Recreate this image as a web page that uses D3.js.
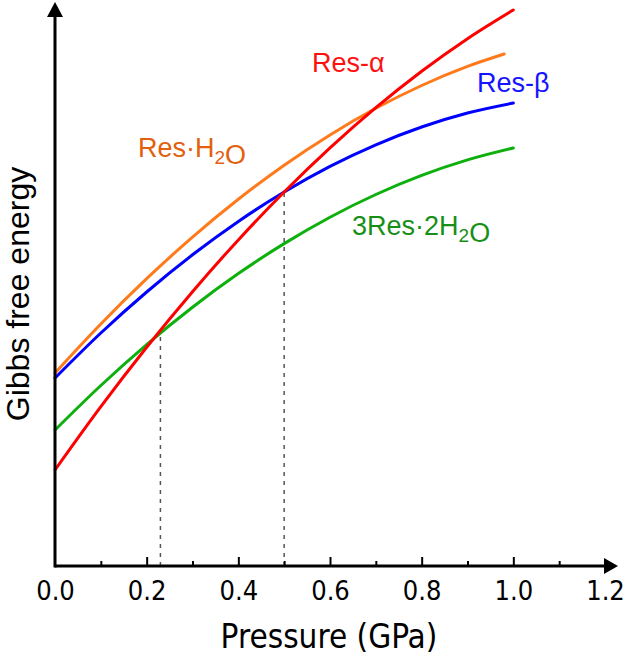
<!DOCTYPE html>
<html>
<head>
<meta charset="utf-8">
<script src="https://cdn.jsdelivr.net/npm/d3@7"></script>
<style>
  html, body { margin: 0; padding: 0; background: #fff; }
  svg { display: block; }
</style>
</head>
<body>
<svg id="chart" width="626" height="664"></svg>
<script>
// ---- Data (energy in arbitrary units) ----
const pressure = [0, 0.1, 0.2, 0.3, 0.4, 0.5, 0.6, 0.7, 0.8, 0.9, 1.0];
const pressureH2O = [0, 0.1, 0.2, 0.3, 0.4, 0.5, 0.6, 0.7, 0.8, 0.9, 0.98];
const resAlpha = [9.6, 15.93, 21.87, 27.43, 32.61, 37.4, 41.81, 45.83, 49.47, 52.73, 55.6];
const resH2O   = [19.3, 24.2, 28.73, 32.89, 36.67, 40.08, 43.11, 45.77, 48.05, 49.96, 51.2];
const resBeta  = [18.8, 23.3, 27.4, 31.12, 34.46, 37.4, 39.96, 42.12, 43.9, 45.3, 46.3];
const res3H2O  = [13.6, 18.05, 22.14, 25.87, 29.24, 32.24, 34.88, 37.15, 39.06, 40.61, 41.8];
const majorTicks = [0, 0.2, 0.4, 0.6, 0.8, 1.0, 1.2];
const minorTicks = [0.1, 0.3, 0.5, 0.7, 0.9, 1.1];
const transitions = [ {p: 0.23, g: 23.3}, {p: 0.5, g: 37.4} ];

const svg = d3.select("#chart");
const x = d3.scaleLinear().domain([0, 1.2]).range([55, 605]);
const y = d3.scaleLinear().domain([0, 56]).range([566, 6]);
const y0 = y(0), x0 = x(0);

// dashed transition lines
svg.selectAll("line.trans").data(transitions).enter().append("line")
  .attr("x1", d => x(d.p)).attr("x2", d => x(d.p))
  .attr("y1", y0).attr("y2", d => y(d.g))
  .attr("stroke", "#555").attr("stroke-width", 1.5).attr("stroke-dasharray", "4,5");

// curves
const series = [
  {xs: pressureH2O, ys: resH2O, color: "#ff7a1a"},
  {xs: pressure, ys: resBeta, color: "#0000ff"},
  {xs: pressure, ys: res3H2O, color: "#0db00d"},
  {xs: pressure, ys: resAlpha, color: "#ff0000"}
];
const line = d3.line().x(d => x(d[0])).y(d => y(d[1])).curve(d3.curveMonotoneX);
svg.selectAll("path.curve").data(series).enter().append("path")
  .attr("d", s => line(s.xs.map((p, i) => [p, s.ys[i]])))
  .attr("fill", "none").attr("stroke", s => s.color).attr("stroke-width", 3)
  .attr("stroke-linecap", "round");

// x axis ticks (upward)
const majorAxis = d3.axisBottom(x).tickValues(majorTicks).tickSizeInner(-9).tickSizeOuter(0)
  .tickPadding(15).tickFormat(d3.format(".1f"));
const gMaj = svg.append("g").attr("transform", `translate(0,${y0})`).call(majorAxis);
gMaj.select(".domain").remove();
gMaj.selectAll(".tick line").attr("stroke", "#000").attr("stroke-width", 2)
  .filter(d => d === 0 || d === 1.2).remove();
gMaj.selectAll(".tick text").attr("font-family", "'DejaVu Sans Condensed', 'DejaVu Sans', sans-serif")
  .attr("font-size", 27).attr("fill", "#000");

const minorAxis = d3.axisBottom(x).tickValues(minorTicks).tickSizeInner(-5).tickSizeOuter(0).tickFormat("");
const gMin = svg.append("g").attr("transform", `translate(0,${y0})`).call(minorAxis);
gMin.select(".domain").remove();
gMin.selectAll(".tick line").attr("stroke", "#000").attr("stroke-width", 2);

// axis lines with arrows
svg.append("line").attr("x1", x0).attr("x2", 604).attr("y1", y0).attr("y2", y0)
  .attr("stroke", "#000").attr("stroke-width", 3);
svg.append("path").attr("d", `M604,${y0-8} L618,${y0} L604,${y0+8} Z`).attr("fill", "#000");
svg.append("line").attr("x1", x0).attr("x2", x0).attr("y1", y0 + 1.5).attr("y2", 16)
  .attr("stroke", "#000").attr("stroke-width", 3);
svg.append("path").attr("d", `M${x0-8},17 L${x0},2 L${x0+8},17 Z`).attr("fill", "#000");

// axis titles
svg.append("text").attr("x", 329).attr("y", 648).attr("text-anchor", "middle")
  .attr("font-family", "'DejaVu Sans Condensed', 'DejaVu Sans', sans-serif").attr("font-size", 33)
  .text("Pressure (GPa)");
svg.append("text").attr("transform", "translate(29,294) rotate(-90)").attr("text-anchor", "middle")
  .attr("font-family", "'Liberation Sans', Arial, sans-serif").attr("font-size", 32)
  .text("Gibbs free energy");

// curve labels
const labelFont = "'Liberation Sans', Arial, sans-serif";
function label(xp, yp, color, parts) {
  const t = svg.append("text").attr("x", xp).attr("y", yp).attr("fill", color)
    .attr("font-family", labelFont).attr("font-size", 27);
  parts.forEach(p => {
    if (p.sub) {
      t.append("tspan").attr("font-size", 19).attr("dy", 7).text(p.t);
      t.append("tspan").attr("dy", -7).text("");
    } else {
      t.append("tspan").text(p.t);
    }
  });
}
label(312, 72, "#ff1010", [{t: "Res-α"}]);
label(477, 92, "#1414ff", [{t: "Res-β"}]);
label(138, 157, "#e2600e", [{t: "Res·H"}, {t: "2", sub: true}, {t: "O"}]);
label(352, 235, "#178f17", [{t: "3Res·2H"}, {t: "2", sub: true}, {t: "O"}]);
</script>
</body>
</html>
